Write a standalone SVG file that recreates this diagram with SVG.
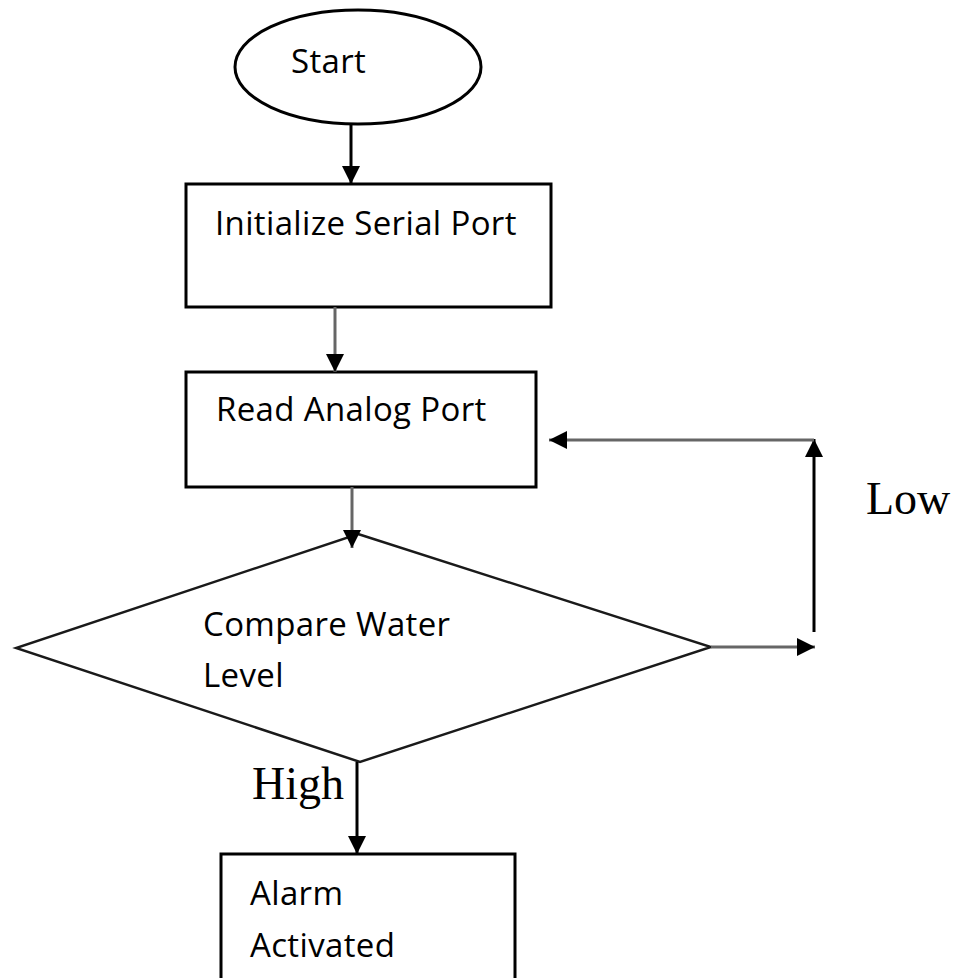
<svg xmlns="http://www.w3.org/2000/svg" width="973" height="978" viewBox="0 0 973 978">
  <style>
    .shape { fill: #ffffff; stroke: #000000; stroke-width: 3; }
    .diamond { fill: #ffffff; stroke: #1a1a1a; stroke-width: 2.4; }
    .label { font-family: "Open Sans", "Liberation Sans", sans-serif; font-size: 33px; letter-spacing: 0.35px; fill: #000000; }
    .branch { font-family: "Liberation Serif", "DejaVu Serif", serif; font-size: 46px; fill: #000000; }
    .link { fill: none; stroke: #000000; stroke-width: 3; }
    .link-soft { fill: none; stroke: #666666; stroke-width: 3; }
  </style>
  <defs>
    <marker id="arrow" markerUnits="userSpaceOnUse" markerWidth="18" markerHeight="18" refX="18" refY="9" orient="auto">
      <path d="M0,0 L18,9 L0,18 Z" fill="#000000"/>
    </marker>
  </defs>

  <rect width="973" height="978" fill="#ffffff"/>

  <g id="node-start">
    <ellipse class="shape" cx="358" cy="67" rx="123" ry="57" stroke-width="2.5"/>
    <text class="label" x="291" y="73">Start</text>
  </g>

  <g id="node-init">
    <rect class="shape" x="186" y="184" width="365" height="123"/>
    <text class="label" x="215" y="235">Initialize Serial Port</text>
  </g>

  <g id="node-read">
    <rect class="shape" x="186" y="372" width="350" height="115"/>
    <text class="label" x="216" y="421">Read Analog Port</text>
  </g>

  <g id="node-compare">
    <polygon class="diamond" points="358,534 711,647 360,762 16,648"/>
    <text class="label" x="203" y="636">Compare Water</text>
    <text class="label" x="203" y="687">Level</text>
  </g>

  <g id="node-alarm">
    <rect class="shape" x="221" y="854" width="294" height="140"/>
    <text class="label" x="250" y="905">Alarm</text>
    <text class="label" x="250" y="957">Activated</text>
  </g>

  <g id="connectors">
    <line class="link" x1="351" y1="124" x2="351" y2="184" marker-end="url(#arrow)"/>
    <line class="link-soft" x1="335" y1="307" x2="335" y2="372" marker-end="url(#arrow)"/>
    <line class="link-soft" x1="352" y1="487" x2="352" y2="548" marker-end="url(#arrow)"/>
    <line class="link-soft" x1="711" y1="647" x2="815" y2="647" marker-end="url(#arrow)"/>
    <line class="link" x1="814" y1="632" x2="814" y2="439" marker-end="url(#arrow)"/>
    <line class="link-soft" x1="814" y1="440" x2="549" y2="440" marker-end="url(#arrow)"/>
    <line class="link" x1="357" y1="762" x2="357" y2="854" marker-end="url(#arrow)"/>
    <text class="branch" x="866" y="514">Low</text>
    <text class="branch" x="252" y="799">High</text>
  </g>
</svg>
